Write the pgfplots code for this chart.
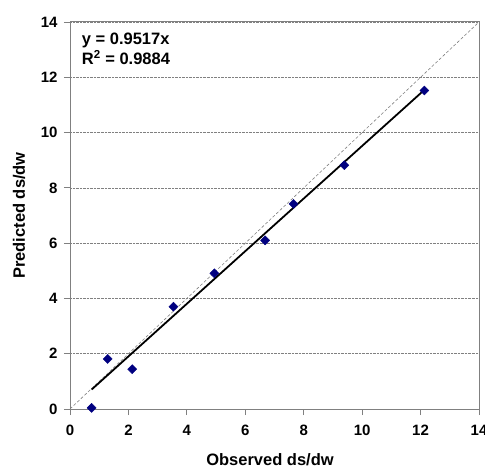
\documentclass[border=0pt]{standalone}
\usepackage{pgfplots}
\pgfplotsset{compat=1.18}
\usepackage{fontspec}
\setmainfont{Liberation Sans}
\definecolor{navy}{RGB}{0,0,128}
\begin{document}
\begin{tikzpicture}
\begin{axis}[
  at={(0,0)}, anchor=south west,
  scale only axis, width=409bp, height=387bp,
  xmin=0, xmax=14, ymin=0, ymax=14,
  xtick={0,2,...,14}, ytick={0,2,...,14},
  axis line style={draw=gray, line width=1pt},
  tick style={draw=gray, line width=0.9pt},
  tick align=outside, major tick length=6bp, tick pos=left,
  ymajorgrids, grid style={densely dotted, gray, line width=0.6pt},
  /pgf/number format/assume math mode=true,
  ticklabel style={font=\bfseries\fontsize{15bp}{17bp}\selectfont},
  xticklabel style={yshift=-7bp},
  yticklabel style={xshift=-3bp},
  xlabel={Observed ds/dw},
  ylabel={Predicted ds/dw},
  label style={font=\bfseries\fontsize{16.5bp}{18bp}\selectfont},
  xlabel style={at={(axis description cs:0.489,0)}, anchor=base, yshift=-56bp},
  ylabel style={at={(axis description cs:-0.1247,0.5)}, anchor=center},
  clip=false,
]
\addplot[gray, densely dashed, line width=0.6pt, forget plot] coordinates {(0,0) (14,14)};
\addplot[black, line width=1.8pt, forget plot] coordinates {(0.74,0.7043) (12.13,11.544)};
\addplot[only marks, mark=square*, mark size=3.2bp, mark options={fill=navy, draw=navy, rotate=45}] coordinates {
(0.74,0.04) (1.29,1.81) (2.13,1.44) (3.54,3.70) (4.94,4.91) (6.68,6.10) (7.65,7.42) (9.39,8.82) (12.13,11.52)
};
\node[anchor=base west, font=\bfseries\fontsize{16.5bp}{18bp}\selectfont, inner sep=0pt] at (axis description cs:0.0286,0.9406) {y = 0.9517x};
\node[anchor=base west, font=\bfseries\fontsize{16.5bp}{18bp}\selectfont, inner sep=0pt] at (axis description cs:0.0286,0.889) {R\textsuperscript{2} = 0.9884};
\end{axis}
\pgfresetboundingbox
\useasboundingbox (-70bp,-59bp) rectangle (415bp,409bp);
\end{tikzpicture}
\end{document}
